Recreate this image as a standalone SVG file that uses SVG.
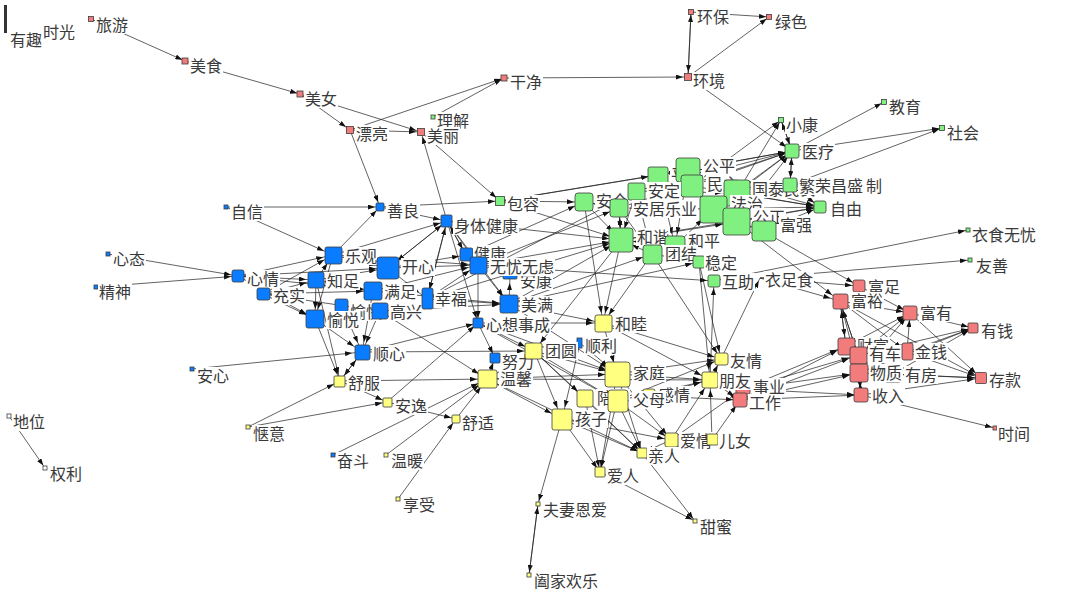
<svg xmlns="http://www.w3.org/2000/svg" width="1080" height="593" viewBox="0 0 1080 593">
<style>
text{font-family:"Noto Sans CJK SC","Noto Sans",sans-serif;font-size:16px;fill:#3a3a3a}
#edges line{stroke:#1e1e1e;stroke-width:0.7;fill:none}
.a{marker-end:url(#ma)}.b{marker-end:url(#mb)}.c{marker-end:url(#mc)}.d{marker-end:url(#md)}.e{marker-end:url(#me)}.f{marker-end:url(#mf)}
.r,.g,.u,.y,.w{stroke:#3c3c3c;stroke-width:0.8}
.r{fill:#f27c7c}.g{fill:#80f080}.u{fill:#0a7cff}.y{fill:#ffff80}.w{fill:#ffffff}
.bg{fill:#ffffff}
</style>
<defs>
<marker id="ma" markerUnits="userSpaceOnUse" markerWidth="7" markerHeight="5" refX="10" refY="2.5" orient="auto"><path d="M0,0L7,2.5L0,5z" fill="#111"/></marker>
<marker id="mb" markerUnits="userSpaceOnUse" markerWidth="7" markerHeight="5" refX="12" refY="2.5" orient="auto"><path d="M0,0L7,2.5L0,5z" fill="#111"/></marker>
<marker id="mc" markerUnits="userSpaceOnUse" markerWidth="7" markerHeight="5" refX="14" refY="2.5" orient="auto"><path d="M0,0L7,2.5L0,5z" fill="#111"/></marker>
<marker id="md" markerUnits="userSpaceOnUse" markerWidth="7" markerHeight="5" refX="17" refY="2.5" orient="auto"><path d="M0,0L7,2.5L0,5z" fill="#111"/></marker>
<marker id="me" markerUnits="userSpaceOnUse" markerWidth="7" markerHeight="5" refX="19" refY="2.5" orient="auto"><path d="M0,0L7,2.5L0,5z" fill="#111"/></marker>
<marker id="mf" markerUnits="userSpaceOnUse" markerWidth="7" markerHeight="5" refX="22" refY="2.5" orient="auto"><path d="M0,0L7,2.5L0,5z" fill="#111"/></marker>
</defs>
<rect x="0" y="0" width="1080" height="593" fill="#ffffff"/>
<g id="edges">
<line class="a" x1="91" y1="19" x2="185" y2="61"/>
<line class="a" x1="185" y1="61" x2="300" y2="94"/>
<line class="a" x1="350" y1="130" x2="504" y2="78"/>
<line class="a" x1="433" y1="117" x2="504" y2="78"/>
<line class="a" x1="688" y1="77" x2="691" y2="12"/>
<line class="a" x1="688" y1="77" x2="769" y2="17"/>
<line class="a" x1="691" y1="12" x2="769" y2="17"/>
<line class="a" x1="792" y1="151" x2="884" y2="102"/>
<line class="a" x1="792" y1="151" x2="942" y2="128"/>
<line class="a" x1="790" y1="185" x2="942" y2="128"/>
<line class="a" x1="792" y1="151" x2="781" y2="120"/>
<line class="a" x1="737" y1="193" x2="781" y2="120"/>
<line class="a" x1="692" y1="186" x2="781" y2="120"/>
<line class="a" x1="760" y1="278" x2="970" y2="260"/>
<line class="a" x1="714" y1="281" x2="968" y2="230"/>
<line class="a" x1="861" y1="395" x2="995" y2="428"/>
<line class="a" x1="562" y1="419" x2="538" y2="504"/>
<line class="a" x1="538" y1="504" x2="529" y2="575"/>
<line class="a" x1="529" y1="575" x2="538" y2="504"/>
<line class="a" x1="642" y1="453" x2="695" y2="521"/>
<line class="a" x1="600" y1="472" x2="695" y2="521"/>
<line class="a" x1="9" y1="416" x2="45" y2="468"/>
<line class="a" x1="721" y1="359" x2="760" y2="278"/>
<line class="b" x1="300" y1="94" x2="350" y2="130"/>
<line class="b" x1="300" y1="94" x2="421" y2="132"/>
<line class="b" x1="350" y1="130" x2="421" y2="132"/>
<line class="b" x1="504" y1="78" x2="688" y2="77"/>
<line class="b" x1="691" y1="12" x2="688" y2="77"/>
<line class="b" x1="350" y1="130" x2="380" y2="207"/>
<line class="b" x1="421" y1="132" x2="500" y2="201"/>
<line class="b" x1="447" y1="221" x2="421" y2="132"/>
<line class="b" x1="226" y1="207" x2="380" y2="207"/>
<line class="b" x1="380" y1="207" x2="500" y2="201"/>
<line class="b" x1="333" y1="255" x2="380" y2="207"/>
<line class="b" x1="447" y1="221" x2="478" y2="323"/>
<line class="b" x1="478" y1="265" x2="478" y2="323"/>
<line class="b" x1="248" y1="427" x2="387" y2="402"/>
<line class="b" x1="340" y1="381" x2="387" y2="402"/>
<line class="b" x1="387" y1="402" x2="456" y2="419"/>
<line class="b" x1="398" y1="499" x2="456" y2="419"/>
<line class="b" x1="387" y1="402" x2="478" y2="323"/>
<line class="b" x1="487" y1="379" x2="495" y2="358"/>
<line class="b" x1="478" y1="323" x2="495" y2="358"/>
<line class="b" x1="362" y1="352" x2="478" y2="323"/>
<line class="b" x1="617" y1="401" x2="642" y2="453"/>
<line class="b" x1="562" y1="419" x2="642" y2="453"/>
<line class="b" x1="562" y1="419" x2="600" y2="472"/>
<line class="b" x1="617" y1="374" x2="642" y2="453"/>
<line class="b" x1="617" y1="374" x2="600" y2="472"/>
<line class="b" x1="585" y1="398" x2="600" y2="472"/>
<line class="b" x1="585" y1="398" x2="642" y2="453"/>
<line class="b" x1="671" y1="440" x2="642" y2="453"/>
<line class="b" x1="712" y1="440" x2="642" y2="453"/>
<line class="b" x1="617" y1="401" x2="600" y2="472"/>
<line class="b" x1="534" y1="351" x2="642" y2="453"/>
<line class="b" x1="487" y1="379" x2="642" y2="453"/>
<line class="b" x1="910" y1="313" x2="973" y2="328"/>
<line class="b" x1="907" y1="352" x2="973" y2="328"/>
<line class="b" x1="858" y1="355" x2="973" y2="328"/>
<line class="b" x1="859" y1="373" x2="973" y2="328"/>
<line class="b" x1="893" y1="374" x2="973" y2="328"/>
<line class="c" x1="688" y1="77" x2="792" y2="151"/>
<line class="c" x1="781" y1="120" x2="792" y2="151"/>
<line class="c" x1="790" y1="185" x2="792" y2="151"/>
<line class="c" x1="792" y1="151" x2="790" y2="185"/>
<line class="c" x1="688" y1="170" x2="792" y2="151"/>
<line class="c" x1="658" y1="175" x2="792" y2="151"/>
<line class="c" x1="692" y1="186" x2="792" y2="151"/>
<line class="c" x1="737" y1="193" x2="792" y2="151"/>
<line class="c" x1="713" y1="209" x2="792" y2="151"/>
<line class="c" x1="636" y1="191" x2="792" y2="151"/>
<line class="c" x1="619" y1="208" x2="792" y2="151"/>
<line class="c" x1="737" y1="222" x2="792" y2="151"/>
<line class="c" x1="621" y1="240" x2="820" y2="207"/>
<line class="c" x1="713" y1="209" x2="820" y2="207"/>
<line class="c" x1="737" y1="222" x2="820" y2="207"/>
<line class="c" x1="692" y1="186" x2="820" y2="207"/>
<line class="c" x1="737" y1="193" x2="820" y2="207"/>
<line class="c" x1="790" y1="185" x2="820" y2="207"/>
<line class="c" x1="688" y1="170" x2="820" y2="207"/>
<line class="c" x1="763" y1="231" x2="820" y2="207"/>
<line class="c" x1="108" y1="254" x2="238" y2="276"/>
<line class="c" x1="96" y1="287" x2="238" y2="276"/>
<line class="c" x1="333" y1="255" x2="447" y2="221"/>
<line class="c" x1="388" y1="268" x2="447" y2="221"/>
<line class="c" x1="466" y1="255" x2="447" y2="221"/>
<line class="c" x1="427" y1="299" x2="447" y2="221"/>
<line class="c" x1="380" y1="207" x2="447" y2="221"/>
<line class="c" x1="447" y1="221" x2="466" y2="255"/>
<line class="c" x1="388" y1="268" x2="466" y2="255"/>
<line class="c" x1="509" y1="304" x2="510" y2="276"/>
<line class="c" x1="315" y1="319" x2="340" y2="381"/>
<line class="c" x1="316" y1="280" x2="340" y2="381"/>
<line class="c" x1="362" y1="352" x2="340" y2="381"/>
<line class="c" x1="248" y1="427" x2="340" y2="381"/>
<line class="c" x1="603" y1="323" x2="721" y2="359"/>
<line class="c" x1="617" y1="374" x2="721" y2="359"/>
<line class="c" x1="617" y1="401" x2="721" y2="359"/>
<line class="c" x1="652" y1="254" x2="721" y2="359"/>
<line class="c" x1="699" y1="262" x2="721" y2="359"/>
<line class="c" x1="710" y1="380" x2="714" y2="281"/>
<line class="c" x1="710" y1="380" x2="721" y2="359"/>
<line class="c" x1="617" y1="401" x2="671" y2="440"/>
<line class="c" x1="562" y1="419" x2="671" y2="440"/>
<line class="c" x1="617" y1="374" x2="671" y2="440"/>
<line class="c" x1="710" y1="380" x2="743" y2="389"/>
<line class="c" x1="710" y1="380" x2="740" y2="400"/>
<line class="c" x1="712" y1="440" x2="740" y2="400"/>
<line class="c" x1="671" y1="440" x2="743" y2="389"/>
<line class="c" x1="650" y1="396" x2="740" y2="400"/>
<line class="c" x1="743" y1="389" x2="861" y2="395"/>
<line class="c" x1="740" y1="400" x2="861" y2="395"/>
<line class="c" x1="760" y1="278" x2="859" y2="286"/>
<line class="c" x1="763" y1="231" x2="859" y2="286"/>
<line class="c" x1="840" y1="301" x2="910" y2="313"/>
<line class="c" x1="859" y1="286" x2="910" y2="313"/>
<line class="c" x1="840" y1="301" x2="907" y2="352"/>
<line class="c" x1="840" y1="301" x2="981" y2="378"/>
<line class="c" x1="910" y1="313" x2="981" y2="378"/>
<line class="c" x1="907" y1="352" x2="910" y2="313"/>
<line class="c" x1="846" y1="346" x2="910" y2="313"/>
<line class="c" x1="858" y1="355" x2="910" y2="313"/>
<line class="c" x1="859" y1="373" x2="910" y2="313"/>
<line class="c" x1="907" y1="352" x2="981" y2="378"/>
<line class="c" x1="893" y1="374" x2="981" y2="378"/>
<line class="c" x1="859" y1="373" x2="981" y2="378"/>
<line class="c" x1="861" y1="395" x2="981" y2="378"/>
<line class="c" x1="859" y1="373" x2="861" y2="395"/>
<line class="c" x1="478" y1="265" x2="714" y2="281"/>
<line class="c" x1="509" y1="304" x2="699" y2="262"/>
<line class="c" x1="675" y1="246" x2="699" y2="262"/>
<line class="c" x1="652" y1="254" x2="699" y2="262"/>
<line class="d" x1="226" y1="207" x2="333" y2="255"/>
<line class="d" x1="238" y1="276" x2="333" y2="255"/>
<line class="d" x1="238" y1="276" x2="316" y2="280"/>
<line class="d" x1="238" y1="276" x2="373" y2="291"/>
<line class="d" x1="238" y1="276" x2="315" y2="319"/>
<line class="d" x1="263" y1="294" x2="315" y2="319"/>
<line class="d" x1="263" y1="294" x2="316" y2="280"/>
<line class="d" x1="263" y1="294" x2="373" y2="291"/>
<line class="d" x1="263" y1="294" x2="380" y2="311"/>
<line class="d" x1="263" y1="294" x2="333" y2="255"/>
<line class="d" x1="316" y1="280" x2="333" y2="255"/>
<line class="d" x1="316" y1="280" x2="315" y2="319"/>
<line class="d" x1="316" y1="280" x2="373" y2="291"/>
<line class="d" x1="333" y1="255" x2="315" y2="319"/>
<line class="d" x1="333" y1="255" x2="478" y2="265"/>
<line class="d" x1="447" y1="221" x2="478" y2="265"/>
<line class="d" x1="447" y1="221" x2="427" y2="299"/>
<line class="d" x1="447" y1="221" x2="509" y2="304"/>
<line class="d" x1="388" y1="268" x2="478" y2="265"/>
<line class="d" x1="373" y1="291" x2="478" y2="265"/>
<line class="d" x1="373" y1="291" x2="509" y2="304"/>
<line class="d" x1="380" y1="311" x2="509" y2="304"/>
<line class="d" x1="427" y1="299" x2="509" y2="304"/>
<line class="d" x1="427" y1="299" x2="478" y2="265"/>
<line class="d" x1="478" y1="265" x2="509" y2="304"/>
<line class="d" x1="388" y1="268" x2="427" y2="299"/>
<line class="d" x1="315" y1="319" x2="362" y2="352"/>
<line class="d" x1="341" y1="305" x2="362" y2="352"/>
<line class="d" x1="380" y1="311" x2="362" y2="352"/>
<line class="d" x1="373" y1="291" x2="362" y2="352"/>
<line class="d" x1="340" y1="381" x2="362" y2="352"/>
<line class="d" x1="192" y1="369" x2="362" y2="352"/>
<line class="d" x1="340" y1="381" x2="487" y2="379"/>
<line class="d" x1="333" y1="455" x2="487" y2="379"/>
<line class="d" x1="386" y1="455" x2="487" y2="379"/>
<line class="d" x1="456" y1="419" x2="487" y2="379"/>
<line class="d" x1="380" y1="311" x2="487" y2="379"/>
<line class="d" x1="487" y1="379" x2="534" y2="351"/>
<line class="d" x1="478" y1="323" x2="534" y2="351"/>
<line class="d" x1="362" y1="352" x2="534" y2="351"/>
<line class="d" x1="478" y1="323" x2="603" y2="323"/>
<line class="d" x1="509" y1="304" x2="603" y2="323"/>
<line class="d" x1="534" y1="351" x2="585" y2="398"/>
<line class="d" x1="487" y1="379" x2="710" y2="380"/>
<line class="d" x1="603" y1="323" x2="710" y2="380"/>
<line class="d" x1="617" y1="374" x2="710" y2="380"/>
<line class="d" x1="617" y1="401" x2="710" y2="380"/>
<line class="d" x1="671" y1="440" x2="710" y2="380"/>
<line class="d" x1="712" y1="440" x2="710" y2="380"/>
<line class="d" x1="650" y1="396" x2="710" y2="380"/>
<line class="d" x1="699" y1="262" x2="710" y2="380"/>
<line class="d" x1="621" y1="240" x2="603" y2="323"/>
<line class="d" x1="584" y1="202" x2="603" y2="323"/>
<line class="d" x1="652" y1="254" x2="603" y2="323"/>
<line class="d" x1="621" y1="240" x2="534" y2="351"/>
<line class="d" x1="743" y1="389" x2="846" y2="346"/>
<line class="d" x1="743" y1="389" x2="858" y2="355"/>
<line class="d" x1="743" y1="389" x2="859" y2="373"/>
<line class="d" x1="740" y1="400" x2="859" y2="373"/>
<line class="d" x1="740" y1="400" x2="846" y2="346"/>
<line class="d" x1="740" y1="400" x2="858" y2="355"/>
<line class="d" x1="760" y1="278" x2="840" y2="301"/>
<line class="d" x1="737" y1="222" x2="840" y2="301"/>
<line class="d" x1="840" y1="301" x2="846" y2="346"/>
<line class="d" x1="846" y1="346" x2="840" y2="301"/>
<line class="d" x1="858" y1="355" x2="840" y2="301"/>
<line class="d" x1="859" y1="373" x2="840" y2="301"/>
<line class="d" x1="840" y1="301" x2="858" y2="355"/>
<line class="d" x1="859" y1="373" x2="846" y2="346"/>
<line class="d" x1="861" y1="395" x2="859" y2="373"/>
<line class="d" x1="619" y1="208" x2="584" y2="202"/>
<line class="d" x1="584" y1="202" x2="619" y2="208"/>
<line class="d" x1="621" y1="240" x2="619" y2="208"/>
<line class="d" x1="500" y1="201" x2="584" y2="202"/>
<line class="d" x1="466" y1="255" x2="584" y2="202"/>
<line class="d" x1="478" y1="265" x2="619" y2="208"/>
<line class="d" x1="427" y1="299" x2="636" y2="191"/>
<line class="d" x1="509" y1="304" x2="652" y2="254"/>
<line class="d" x1="619" y1="208" x2="652" y2="254"/>
<line class="d" x1="636" y1="191" x2="652" y2="254"/>
<line class="d" x1="500" y1="201" x2="658" y2="175"/>
<line class="e" x1="238" y1="276" x2="388" y2="268"/>
<line class="e" x1="316" y1="280" x2="388" y2="268"/>
<line class="e" x1="333" y1="255" x2="388" y2="268"/>
<line class="e" x1="447" y1="221" x2="388" y2="268"/>
<line class="e" x1="509" y1="304" x2="617" y2="374"/>
<line class="e" x1="534" y1="351" x2="617" y2="374"/>
<line class="e" x1="534" y1="351" x2="617" y2="401"/>
<line class="e" x1="534" y1="351" x2="562" y2="419"/>
<line class="e" x1="487" y1="379" x2="562" y2="419"/>
<line class="e" x1="487" y1="379" x2="617" y2="374"/>
<line class="e" x1="603" y1="323" x2="617" y2="374"/>
<line class="e" x1="580" y1="343" x2="617" y2="374"/>
<line class="e" x1="580" y1="343" x2="562" y2="419"/>
<line class="e" x1="478" y1="323" x2="617" y2="374"/>
<line class="e" x1="478" y1="323" x2="617" y2="401"/>
<line class="e" x1="584" y1="202" x2="621" y2="240"/>
<line class="e" x1="636" y1="191" x2="621" y2="240"/>
<line class="e" x1="619" y1="208" x2="621" y2="240"/>
<line class="e" x1="675" y1="246" x2="621" y2="240"/>
<line class="e" x1="652" y1="254" x2="621" y2="240"/>
<line class="e" x1="500" y1="201" x2="621" y2="240"/>
<line class="e" x1="478" y1="265" x2="621" y2="240"/>
<line class="e" x1="509" y1="304" x2="621" y2="240"/>
<line class="e" x1="427" y1="299" x2="621" y2="240"/>
<line class="e" x1="447" y1="221" x2="621" y2="240"/>
<line class="e" x1="658" y1="175" x2="675" y2="246"/>
<line class="e" x1="688" y1="170" x2="675" y2="246"/>
<line class="e" x1="737" y1="222" x2="763" y2="231"/>
<line class="e" x1="500" y1="201" x2="688" y2="170"/>
<line class="f" x1="692" y1="186" x2="713" y2="209"/>
<line class="f" x1="713" y1="209" x2="737" y2="222"/>
<line class="f" x1="636" y1="191" x2="737" y2="193"/>
<line class="f" x1="619" y1="208" x2="713" y2="209"/>
<line class="f" x1="621" y1="240" x2="737" y2="222"/>
<line class="f" x1="675" y1="246" x2="713" y2="209"/>
</g>
<rect x="4" y="5" width="3" height="28" fill="#333"/>
<g id="n-youqu"><text x="10" y="46">有趣</text></g>
<g id="n-shiguang"><text x="43" y="38">时光</text></g>
<g id="n-lvyou"><rect class="r" x="88.5" y="16.5" width="5" height="5"/><rect class="bg" x="95" y="16" width="34" height="18"/><text x="96" y="31">旅游</text></g>
<g id="n-meishi"><rect class="r" x="182" y="58" width="6" height="6"/><rect class="bg" x="189" y="57" width="34" height="18"/><text x="190" y="72">美食</text></g>
<g id="n-meinv"><rect class="r" x="297" y="91" width="6" height="6"/><rect class="bg" x="304" y="90" width="34" height="18"/><text x="305" y="105">美女</text></g>
<g id="n-piaoliang"><rect class="r" x="346.5" y="126.5" width="7" height="7"/><rect class="bg" x="355" y="125" width="34" height="18"/><text x="356" y="140">漂亮</text></g>
<g id="n-lijie"><rect class="g" x="431" y="115" width="4" height="4"/><rect class="bg" x="436" y="112" width="34" height="18"/><text x="437" y="127">理解</text></g>
<g id="n-meili"><rect class="r" x="417.5" y="128.5" width="7" height="7"/><rect class="bg" x="426" y="127" width="34" height="18"/><text x="427" y="142">美丽</text></g>
<g id="n-ganjing"><rect class="r" x="501" y="75" width="6" height="6"/><rect class="bg" x="509" y="73" width="34" height="18"/><text x="510" y="88">干净</text></g>
<g id="n-huanjing"><rect class="r" x="684.5" y="73.5" width="7" height="7"/><rect class="bg" x="692" y="72" width="34" height="18"/><text x="693" y="87">环境</text></g>
<g id="n-huanbao"><rect class="r" x="688.5" y="9.5" width="5" height="5"/><rect class="bg" x="696" y="8" width="34" height="18"/><text x="697" y="23">环保</text></g>
<g id="n-lvse"><rect class="r" x="766.5" y="14.5" width="5" height="5"/><rect class="bg" x="774" y="13" width="34" height="18"/><text x="775" y="28">绿色</text></g>
<g id="n-baorong"><rect class="g" x="495.5" y="196.5" width="9" height="9"/><rect class="bg" x="506" y="195" width="34" height="18"/><text x="507" y="210">包容</text></g>
<g id="n-xiaokang"><rect class="g" x="778.5" y="117.5" width="5" height="5"/><rect class="bg" x="785" y="116" width="34" height="18"/><text x="786" y="131">小康</text></g>
<g id="n-jiaoyu"><rect class="g" x="881.5" y="99.5" width="5" height="5"/><rect class="bg" x="888" y="98" width="34" height="18"/><text x="889" y="113">教育</text></g>
<g id="n-shehui"><rect class="g" x="939.5" y="125.5" width="5" height="5"/><rect class="bg" x="946" y="124" width="34" height="18"/><text x="947" y="139">社会</text></g>
<g id="n-pingdeng"><rect class="g" x="648" y="167" width="20" height="17" rx="2"/><rect class="bg" x="670" y="166" width="34" height="18"/><text x="671" y="181">平等</text></g>
<g id="n-gongping"><rect class="g" x="676" y="158" width="24" height="24" rx="3"/><rect class="bg" x="702" y="157" width="34" height="18"/><text x="703" y="172">公平</text></g>
<g id="n-minzhu"><rect class="g" x="681" y="175" width="22" height="22" rx="3"/><rect class="bg" x="706" y="175" width="34" height="18"/><text x="707" y="190">民主</text></g>
<g id="n-guotai"><rect class="g" x="724" y="180" width="26" height="26" rx="3"/><rect class="bg" x="751" y="180" width="66" height="18"/><text x="752" y="195">国泰民安</text></g>
<g id="n-fazhi"><rect class="g" x="700" y="196" width="27" height="27" rx="3"/><rect class="bg" x="730" y="195" width="34" height="18"/><text x="731" y="210">法治</text></g>
<g id="n-gongzheng"><rect class="g" x="723" y="208" width="27" height="27" rx="3"/><rect class="bg" x="752" y="208" width="34" height="18"/><text x="753" y="223">公正</text></g>
<g id="n-fuqiang"><rect class="g" x="752" y="221" width="24" height="20" rx="3"/><rect class="bg" x="779" y="216" width="34" height="18"/><text x="780" y="231">富强</text></g>
<g id="n-fanrong"><rect class="g" x="783" y="178" width="14" height="14" rx="2"/><rect class="bg" x="798" y="177" width="66" height="18"/><text x="799" y="192">繁荣昌盛</text><text x="866" y="192">制</text></g>
<g id="n-yiliao"><rect class="g" x="785" y="144" width="14" height="14" rx="2"/><rect class="bg" x="801" y="143" width="34" height="18"/><text x="802" y="158">医疗</text></g>
<g id="n-ziyou"><rect class="g" x="814" y="201" width="12" height="12" rx="2"/><rect class="bg" x="829" y="200" width="34" height="18"/><text x="830" y="215">自由</text></g>
<g id="n-anquan"><rect class="g" x="575" y="193" width="18" height="18" rx="3"/><rect class="bg" x="595" y="192" width="34" height="18"/><text x="596" y="207">安全</text></g>
<g id="n-anding"><rect class="g" x="628" y="183" width="17" height="17" rx="2"/><rect class="bg" x="647" y="182" width="34" height="18"/><text x="648" y="197">安定</text></g>
<g id="n-anju"><rect class="g" x="610" y="199" width="18" height="18" rx="3"/><rect class="bg" x="632" y="200" width="66" height="18"/><text x="633" y="215">安居乐业</text></g>
<g id="n-hexie"><rect class="g" x="609" y="228" width="24" height="24" rx="3"/><rect class="bg" x="636" y="228" width="34" height="18"/><text x="637" y="243">和谐</text></g>
<g id="n-heping"><rect class="g" x="665" y="236" width="20" height="20" rx="3"/><rect class="bg" x="687" y="232" width="34" height="18"/><text x="688" y="247">和平</text></g>
<g id="n-tuanjie"><rect class="g" x="643" y="245" width="19" height="19" rx="3"/><rect class="bg" x="664" y="245" width="34" height="18"/><text x="665" y="260">团结</text></g>
<g id="n-wending"><rect class="g" x="693" y="256" width="12" height="12" rx="2"/><rect class="bg" x="704" y="254" width="34" height="18"/><text x="705" y="269">稳定</text></g>
<g id="n-huzhu"><rect class="g" x="708" y="275" width="12" height="12" rx="2"/><rect class="bg" x="721" y="273" width="34" height="18"/><text x="722" y="288">互助</text></g>
<g id="n-yizushi"><rect class="bg" x="764" y="271" width="50" height="18"/><text x="765" y="286">衣足食</text></g>
<g id="n-yishiwuyou"><rect class="g" x="966" y="228" width="4" height="4"/><rect class="bg" x="971" y="226" width="66" height="18"/><text x="972" y="241">衣食无忧</text></g>
<g id="n-youshan"><rect class="g" x="968" y="258" width="4" height="4"/><rect class="bg" x="975" y="257" width="34" height="18"/><text x="976" y="272">友善</text></g>
<g id="n-caifu"><rect class="r" x="838" y="338" width="17" height="17" rx="2"/><rect class="bg" x="856" y="337" width="34" height="18"/><text x="857" y="352">财富</text></g>
<g id="n-fuzu"><rect class="r" x="853" y="280" width="12" height="12" rx="2"/><rect class="bg" x="867" y="278" width="34" height="18"/><text x="868" y="293">富足</text></g>
<g id="n-fuyu"><rect class="r" x="833" y="294" width="15" height="15" rx="2"/><rect class="bg" x="850" y="292" width="34" height="18"/><text x="851" y="307">富裕</text></g>
<g id="n-fuyou"><rect class="r" x="903" y="306" width="14" height="14" rx="2"/><rect class="bg" x="919" y="304" width="34" height="18"/><text x="920" y="319">富有</text></g>
<g id="n-youqian"><rect class="r" x="968" y="323" width="10" height="10" rx="1"/><rect class="bg" x="980" y="322" width="34" height="18"/><text x="981" y="337">有钱</text></g>
<g id="n-cunkuan"><rect class="r" x="975.5" y="372.5" width="11" height="11" rx="1"/><rect class="bg" x="988" y="371" width="34" height="18"/><text x="989" y="386">存款</text></g>
<g id="n-shijian"><rect class="r" x="993" y="426" width="4" height="4"/><rect class="bg" x="997" y="425" width="34" height="18"/><text x="998" y="440">时间</text></g>
<g id="n-youche"><rect class="r" x="850" y="347" width="17" height="17" rx="2"/><rect class="bg" x="868" y="345" width="34" height="18"/><text x="869" y="360">有车</text></g>
<g id="n-jinqian"><rect class="r" x="902" y="343" width="11" height="17" rx="2"/><rect class="bg" x="914" y="343" width="34" height="18"/><text x="915" y="358">金钱</text></g>
<g id="n-youfang"><rect class="r" x="885" y="366" width="16" height="16" rx="2"/><rect class="bg" x="904" y="366" width="34" height="18"/><text x="905" y="381">有房</text></g>
<g id="n-wuzhi"><rect class="r" x="850" y="364" width="18" height="18" rx="2"/><rect class="bg" x="869" y="364" width="34" height="18"/><text x="870" y="379">物质</text></g>
<g id="n-shouru"><rect class="r" x="854" y="388" width="14" height="14" rx="2"/><rect class="bg" x="871" y="387" width="34" height="18"/><text x="872" y="402">收入</text></g>
<g id="n-shiye"><rect class="r" x="736" y="383" width="14" height="11" rx="1"/><rect class="bg" x="752" y="378" width="34" height="18"/><text x="753" y="393">事业</text></g>
<g id="n-gongzuo"><rect class="r" x="733" y="393" width="14" height="14" rx="2"/><rect class="bg" x="748" y="394" width="34" height="18"/><text x="749" y="409">工作</text></g>
<g id="n-zixin"><rect class="u" x="224" y="205" width="4" height="4"/><rect class="bg" x="230" y="203" width="34" height="18"/><text x="231" y="218">自信</text></g>
<g id="n-xintai"><rect class="u" x="106" y="252" width="4" height="4"/><rect class="bg" x="112" y="250" width="34" height="18"/><text x="113" y="265">心态</text></g>
<g id="n-jingshen"><rect class="u" x="94" y="285" width="4" height="4"/><rect class="bg" x="98" y="283" width="34" height="18"/><text x="99" y="298">精神</text></g>
<g id="n-anxin"><rect class="u" x="190" y="367" width="4" height="4"/><rect class="bg" x="196" y="367" width="34" height="18"/><text x="197" y="382">安心</text></g>
<g id="n-fendou"><rect class="u" x="331" y="453" width="4" height="4"/><rect class="bg" x="336" y="452" width="34" height="18"/><text x="337" y="467">奋斗</text></g>
<g id="n-shanliang"><rect class="u" x="376" y="203" width="8" height="8" rx="1"/><rect class="bg" x="386" y="202" width="34" height="18"/><text x="387" y="217">善良</text></g>
<g id="n-shentijiankang"><rect class="u" x="441" y="215" width="11" height="12" rx="1"/><rect class="bg" x="453" y="217" width="66" height="18"/><text x="454" y="232">身体健康</text></g>
<g id="n-xinqing"><rect class="u" x="232" y="270" width="12" height="12" rx="2"/><rect class="bg" x="246" y="270" width="34" height="18"/><text x="247" y="285">心情</text></g>
<g id="n-leguan"><rect class="u" x="325" y="247" width="17" height="17" rx="2"/><rect class="bg" x="344" y="247" width="34" height="18"/><text x="345" y="262">乐观</text></g>
<g id="n-chongshi"><rect class="u" x="257" y="288" width="13" height="12" rx="2"/><rect class="bg" x="272" y="287" width="34" height="18"/><text x="273" y="302">充实</text></g>
<g id="n-zhizu"><rect class="u" x="308" y="272" width="16" height="16" rx="2"/><rect class="bg" x="326" y="272" width="34" height="18"/><text x="327" y="287">知足</text></g>
<g id="n-kaixin"><rect class="u" x="377" y="257" width="22" height="22" rx="3"/><rect class="bg" x="401" y="258" width="34" height="18"/><text x="402" y="273">开心</text></g>
<g id="n-yukuai"><rect class="u" x="335" y="299" width="13" height="13" rx="2"/><rect class="bg" x="349" y="303" width="34" height="18"/><text x="350" y="318">愉快</text></g>
<g id="n-yuyue"><rect class="u" x="306" y="310" width="18" height="18" rx="2"/><rect class="bg" x="326" y="311" width="34" height="18"/><text x="327" y="326">愉悦</text></g>
<g id="n-manzu"><rect class="u" x="364" y="282" width="18" height="18" rx="2"/><rect class="bg" x="383" y="283" width="34" height="18"/><text x="384" y="298">满足</text></g>
<g id="n-gaoxing"><rect class="u" x="372" y="303" width="16" height="16" rx="2"/><rect class="bg" x="389" y="303" width="34" height="18"/><text x="390" y="318">高兴</text></g>
<g id="n-xingfu"><rect class="u" x="422" y="288" width="11" height="21" rx="2"/><rect class="bg" x="434" y="290" width="34" height="18"/><text x="435" y="305">幸福</text></g>
<g id="n-jiankang"><rect class="u" x="460" y="248" width="13" height="13" rx="2"/><rect class="bg" x="473" y="245" width="34" height="18"/><text x="474" y="260">健康</text></g>
<g id="n-ankang"><rect class="u" x="503" y="271" width="14" height="8" rx="1"/><rect class="bg" x="519" y="272" width="34" height="18"/><text x="520" y="287">安康</text></g>
<g id="n-wuyou"><rect class="u" x="470" y="257" width="17" height="17" rx="2"/><rect class="bg" x="489" y="258" width="66" height="18"/><text x="490" y="273">无忧无虑</text></g>
<g id="n-meiman"><rect class="u" x="500" y="295" width="18" height="18" rx="2"/><rect class="bg" x="520" y="296" width="34" height="18"/><text x="521" y="311">美满</text></g>
<g id="n-xinxiang"><rect class="u" x="473" y="318" width="10" height="10" rx="1"/><rect class="bg" x="485" y="316" width="66" height="18"/><text x="486" y="331">心想事成</text></g>
<g id="n-shunxin"><rect class="u" x="355" y="345" width="15" height="15" rx="2"/><rect class="bg" x="372" y="345" width="34" height="18"/><text x="373" y="360">顺心</text></g>
<g id="n-nuli"><rect class="u" x="490" y="353" width="10" height="10" rx="1"/><rect class="bg" x="501" y="353" width="34" height="18"/><text x="502" y="368">努力</text></g>
<g id="n-shunli"><rect class="u" x="577" y="338" width="5" height="10"/><rect class="bg" x="584" y="337" width="34" height="18"/><text x="585" y="352">顺利</text></g>
<g id="n-shufu"><rect class="y" x="334" y="376" width="11" height="11" rx="1"/><rect class="bg" x="347" y="374" width="34" height="18"/><text x="348" y="389">舒服</text></g>
<g id="n-anyi"><rect class="y" x="383" y="398" width="9" height="9" rx="1"/><rect class="bg" x="394" y="397" width="34" height="18"/><text x="395" y="412">安逸</text></g>
<g id="n-shushi"><rect class="y" x="452" y="415" width="8" height="8" rx="1"/><rect class="bg" x="461" y="414" width="34" height="18"/><text x="462" y="429">舒适</text></g>
<g id="n-qieyi"><rect class="y" x="246" y="425" width="4" height="4"/><rect class="bg" x="252" y="425" width="34" height="18"/><text x="253" y="440">惬意</text></g>
<g id="n-wennuan"><rect class="y" x="384" y="453" width="4" height="4"/><rect class="bg" x="390" y="452" width="34" height="18"/><text x="391" y="467">温暖</text></g>
<g id="n-xiangshou"><rect class="y" x="396" y="497" width="4" height="4"/><rect class="bg" x="402" y="496" width="34" height="18"/><text x="403" y="511">享受</text></g>
<g id="n-wenxin"><rect class="y" x="478" y="370" width="19" height="18" rx="2"/><rect class="bg" x="499" y="370" width="34" height="18"/><text x="500" y="385">温馨</text></g>
<g id="n-tuanyuan"><rect class="y" x="525" y="343" width="17" height="16" rx="2"/><rect class="bg" x="544" y="342" width="34" height="18"/><text x="545" y="357">团圆</text></g>
<g id="n-hemu"><rect class="y" x="595" y="315" width="17" height="17" rx="2"/><rect class="bg" x="614" y="315" width="34" height="18"/><text x="615" y="330">和睦</text></g>
<g id="n-peiban"><rect class="y" x="577" y="390" width="16" height="17" rx="2"/><rect class="bg" x="596" y="389" width="34" height="18"/><text x="597" y="404">陪伴</text></g>
<g id="n-haizi"><rect class="y" x="552" y="409" width="20" height="21" rx="2"/><rect class="bg" x="574" y="410" width="34" height="18"/><text x="575" y="425">孩子</text></g>
<g id="n-ganqing"><rect class="y" x="643" y="389" width="12" height="12" rx="2"/><rect class="bg" x="657" y="386" width="34" height="18"/><text x="658" y="401">感情</text></g>
<g id="n-jiating"><rect class="y" x="605" y="362" width="25" height="25" rx="3"/><rect class="bg" x="632" y="364" width="34" height="18"/><text x="633" y="379">家庭</text></g>
<g id="n-fumu"><rect class="y" x="608" y="390" width="20" height="22" rx="3"/><rect class="bg" x="632" y="391" width="34" height="18"/><text x="633" y="406">父母</text></g>
<g id="n-youqing"><rect class="y" x="715" y="353" width="13" height="12" rx="2"/><rect class="bg" x="729" y="352" width="34" height="18"/><text x="730" y="367">友情</text></g>
<g id="n-pengyou"><rect class="y" x="702" y="372" width="16" height="16" rx="2"/><rect class="bg" x="718" y="372" width="34" height="18"/><text x="719" y="387">朋友</text></g>
<g id="n-aiqing"><rect class="y" x="665" y="433" width="13" height="14" rx="2"/><rect class="bg" x="679" y="432" width="34" height="18"/><text x="680" y="447">爱情</text></g>
<g id="n-ernv"><rect class="y" x="707" y="434" width="11" height="11" rx="1"/><rect class="bg" x="718" y="432" width="34" height="18"/><text x="719" y="447">儿女</text></g>
<g id="n-qinren"><rect class="y" x="637" y="448" width="10" height="10" rx="1"/><rect class="bg" x="647" y="447" width="34" height="18"/><text x="648" y="462">亲人</text></g>
<g id="n-airen"><rect class="y" x="595" y="467" width="10" height="10" rx="1"/><rect class="bg" x="606" y="467" width="34" height="18"/><text x="607" y="482">爱人</text></g>
<g id="n-fuqi"><rect class="y" x="536" y="502" width="4" height="4"/><rect class="bg" x="542" y="501" width="66" height="18"/><text x="543" y="516">夫妻恩爱</text></g>
<g id="n-hejia"><rect class="y" x="527" y="573" width="4" height="4"/><rect class="bg" x="533" y="572" width="66" height="18"/><text x="534" y="587">阖家欢乐</text></g>
<g id="n-tianmi"><rect class="y" x="693" y="519" width="4" height="4"/><rect class="bg" x="699" y="518" width="34" height="18"/><text x="700" y="533">甜蜜</text></g>
<g id="n-diwei"><rect class="w" x="7" y="414" width="4" height="4"/><rect class="bg" x="12" y="413" width="34" height="18"/><text x="13" y="428">地位</text></g>
<g id="n-quanli"><rect class="w" x="43" y="466" width="4" height="4"/><rect class="bg" x="49" y="465" width="34" height="18"/><text x="50" y="480">权利</text></g>
</svg>
